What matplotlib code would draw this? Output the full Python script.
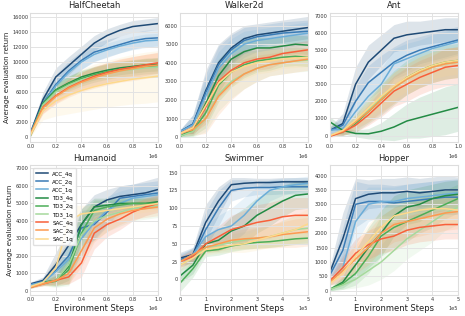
import matplotlib
matplotlib.use("Agg")
import matplotlib.pyplot as plt
import numpy as np

series = ["ACC_4q", "ACC_2q", "ACC_1q", "TD3_4q", "TD3_2q", "TD3_1q", "SAC_4q", "SAC_2q", "SAC_1q"]
colors = ["#1f4a75", "#3a7bb5", "#6badd8", "#238b45", "#4cae57", "#a6d99c", "#f8603a", "#fd9a50", "#fdd98c"]

steps_1m = [0, 1e5, 2e5, 3e5, 4e5, 5e5, 6e5, 7e5, 8e5, 9e5, 1e6]
steps_500k = [0, 0.5e5, 1e5, 1.5e5, 2e5, 2.5e5, 3e5, 3.5e5, 4e5, 4.5e5, 5e5]

halfcheetah_mean = [
    [500, 5000, 8000, 9500, 11000, 12500, 13500, 14200, 14700, 14900, 15100],
    [400, 4500, 7000, 8800, 10200, 11300, 11800, 12300, 12800, 13100, 13200],
    [400, 4400, 6800, 8600, 10000, 11000, 11600, 12100, 12500, 12800, 12900],
    [200, 4500, 6300, 7200, 8000, 8500, 8900, 9200, 9400, 9600, 9700],
    [200, 4400, 6200, 7100, 7800, 8300, 8700, 9000, 9200, 9400, 9500],
    [200, 4300, 6000, 6900, 7600, 8100, 8500, 8800, 9000, 9200, 9300],
    [300, 4000, 5500, 6600, 7400, 8100, 8600, 9000, 9300, 9600, 9900],
    [300, 3900, 5400, 6500, 7300, 7900, 8400, 8800, 9100, 9400, 9600],
    [200, 3500, 4800, 5600, 6200, 6700, 7100, 7400, 7700, 7900, 8100],
]
halfcheetah_std = [
    [300, 1000, 1200, 1200, 1100, 1000, 900, 800, 800, 800, 800],
    [300, 1000, 1300, 1300, 1200, 1200, 1200, 1100, 1100, 1100, 1100],
    [300, 900, 1100, 1100, 1000, 1000, 900, 900, 900, 900, 900],
    [200, 700, 800, 900, 900, 900, 900, 900, 900, 900, 900],
    [200, 700, 900, 1000, 1000, 1000, 1000, 1000, 1000, 1000, 1000],
    [200, 800, 1000, 1100, 1100, 1200, 1200, 1200, 1200, 1200, 1200],
    [200, 800, 1000, 1100, 1200, 1300, 1300, 1400, 1400, 1400, 1400],
    [200, 800, 1000, 1200, 1300, 1400, 1500, 1500, 1600, 1600, 1600],
    [200, 1200, 2000, 2500, 2800, 3000, 3100, 3200, 3300, 3400, 3400],
]

walker_mean = [
    [300, 700, 2500, 4000, 4800, 5300, 5500, 5600, 5700, 5800, 5900],
    [300, 700, 2400, 3900, 4700, 5200, 5400, 5500, 5600, 5650, 5700],
    [300, 650, 2200, 3700, 4500, 5000, 5200, 5300, 5400, 5500, 5600],
    [50, 400, 1800, 3300, 4200, 4600, 4800, 4800, 4900, 5000, 4950],
    [50, 350, 1300, 2800, 3500, 3900, 4100, 4200, 4300, 4350, 4300],
    [50, 300, 1000, 2300, 3000, 3400, 3700, 3900, 4000, 4100, 4150],
    [200, 500, 1600, 3000, 3600, 4000, 4200, 4300, 4500, 4600, 4700],
    [200, 400, 1000, 2200, 2900, 3400, 3700, 3900, 4000, 4100, 4200],
    [200, 500, 1700, 2900, 3500, 3800, 4000, 4100, 4200, 4250, 4300],
]
walker_std = [
    [100, 500, 1100, 1000, 800, 700, 600, 600, 600, 600, 600],
    [100, 500, 1000, 1000, 800, 700, 600, 600, 600, 600, 600],
    [100, 400, 900, 900, 800, 700, 600, 600, 600, 600, 600],
    [50, 300, 900, 900, 700, 600, 600, 500, 500, 500, 500],
    [50, 300, 800, 900, 800, 700, 600, 600, 500, 500, 500],
    [50, 300, 700, 900, 900, 800, 700, 600, 600, 600, 600],
    [100, 300, 900, 900, 800, 700, 600, 600, 500, 500, 500],
    [100, 300, 800, 1000, 900, 800, 700, 600, 600, 600, 600],
    [100, 300, 900, 900, 800, 700, 600, 600, 500, 500, 500],
]

ant_mean = [
    [300, 700, 3000, 4300, 5000, 5700, 5900, 6000, 6100, 6200, 6200],
    [300, 600, 2000, 3100, 3700, 4300, 4700, 5000, 5200, 5400, 5600],
    [300, 400, 1400, 2300, 3000, 4200, 4500, 4800, 5100, 5300, 5500],
    [800, 300, 120, 100, 250, 500, 850, 1050, 1250, 1450, 1650],
    [0, 200, 700, 1400, 2100, 2800, 3400, 3800, 4100, 4300, 4400],
    [0, 200, 800, 1500, 2200, 2800, 3300, 3700, 4000, 4200, 4300],
    [-50, 200, 600, 1200, 1900, 2600, 3000, 3400, 3700, 4000, 4100],
    [0, 250, 800, 1400, 2100, 2800, 3300, 3700, 4000, 4200, 4300],
    [0, 300, 900, 1600, 2300, 2900, 3400, 3800, 4100, 4300, 4400],
]
ant_std = [
    [200, 600, 1000, 1000, 900, 800, 800, 700, 700, 700, 700],
    [200, 500, 900, 1000, 1000, 900, 900, 800, 800, 800, 800],
    [200, 400, 800, 900, 900, 900, 900, 800, 800, 800, 800],
    [300, 200, 200, 300, 500, 800, 1000, 1200, 1300, 1400, 1400],
    [50, 200, 500, 700, 900, 1000, 1000, 1000, 1000, 1000, 1000],
    [50, 200, 500, 700, 800, 900, 900, 900, 900, 900, 900],
    [50, 200, 400, 600, 800, 900, 1000, 1000, 1000, 1100, 1100],
    [50, 200, 400, 600, 800, 900, 900, 900, 900, 900, 900],
    [50, 200, 400, 600, 700, 800, 800, 800, 800, 800, 800],
]

humanoid_mean = [
    [400, 600, 1500, 2600, 3800, 4800, 5200, 5400, 5500, 5600, 5800],
    [350, 550, 1200, 2000, 3600, 3800, 4500, 5300, 5400, 5500, 5600],
    [350, 500, 1100, 1800, 3000, 3900, 4600, 5000, 5300, 5400, 5500],
    [200, 500, 600, 1400, 3800, 4800, 4900, 5000, 5000, 5000, 5100],
    [200, 450, 550, 1200, 3300, 4600, 4800, 4900, 5000, 5000, 5000],
    [200, 450, 600, 1500, 3200, 4000, 4300, 4500, 4700, 4800, 4900],
    [200, 400, 600, 800, 1600, 3300, 3800, 4100, 4500, 4800, 5000],
    [200, 400, 600, 1000, 2300, 3600, 4100, 4400, 4600, 4700, 4800],
    [250, 500, 1300, 4000, 4400, 4500, 4600, 4700, 4800, 4900, 5000],
]
humanoid_std = [
    [100, 200, 700, 900, 900, 700, 600, 600, 600, 700, 700],
    [100, 200, 600, 900, 1000, 900, 800, 700, 700, 700, 700],
    [100, 200, 500, 800, 1000, 900, 800, 700, 600, 600, 600],
    [50, 100, 300, 800, 900, 500, 400, 300, 300, 300, 300],
    [50, 100, 300, 800, 1000, 600, 400, 300, 300, 300, 300],
    [50, 150, 400, 1200, 1300, 1100, 900, 800, 700, 700, 700],
    [50, 100, 200, 400, 800, 900, 700, 600, 500, 500, 500],
    [50, 100, 300, 600, 900, 800, 700, 600, 500, 500, 500],
    [50, 200, 600, 900, 500, 400, 400, 400, 400, 400, 400],
]

swimmer_mean = [
    [30, 35, 80, 110, 133, 135, 136, 136, 137, 137, 137],
    [28, 33, 70, 100, 125, 128, 129, 129, 130, 130, 130],
    [25, 35, 60, 70, 75, 90, 110, 125, 130, 133, 135],
    [5, 20, 50, 55, 68, 75, 90, 100, 110, 118, 120],
    [-5, 15, 40, 42, 47, 50, 52, 53, 55, 57, 58],
    [20, 30, 45, 48, 52, 55, 58, 60, 65, 70, 72],
    [25, 32, 50, 60, 70, 75, 80, 83, 88, 90, 90],
    [25, 35, 45, 50, 55, 57, 58, 60, 63, 65, 67],
    [20, 30, 42, 45, 48, 50, 55, 60, 65, 70, 78],
]
swimmer_std = [
    [8, 10, 25, 20, 10, 8, 6, 6, 6, 6, 6],
    [8, 10, 25, 25, 15, 12, 10, 10, 10, 10, 10],
    [8, 10, 15, 20, 25, 25, 20, 15, 12, 10, 10],
    [10, 12, 10, 15, 20, 25, 25, 25, 22, 20, 20],
    [12, 12, 8, 8, 8, 8, 8, 8, 8, 8, 8],
    [8, 8, 8, 10, 12, 12, 14, 15, 18, 20, 20],
    [8, 8, 10, 15, 20, 22, 25, 25, 25, 25, 25],
    [8, 8, 8, 10, 12, 14, 15, 16, 18, 20, 20],
    [8, 8, 8, 8, 10, 12, 14, 15, 18, 20, 22],
]

hopper_mean = [
    [650, 1800, 3200, 3350, 3400, 3400, 3450, 3400, 3450, 3500, 3500],
    [550, 1400, 3000, 3100, 3100, 3050, 3100, 3150, 3200, 3250, 3250],
    [300, 800, 2400, 3000, 3100, 3100, 3200, 3250, 3300, 3350, 3400],
    [50, 300, 900, 1500, 2000, 2600, 2900, 3000, 3200, 3300, 3350],
    [50, 250, 600, 1200, 1900, 2200, 2400, 2600, 2800, 3000, 3200],
    [50, 200, 400, 700, 1000, 1400, 1800, 2100, 2400, 2700, 2900],
    [350, 800, 1300, 1600, 1800, 1900, 2100, 2200, 2250, 2300, 2300],
    [300, 700, 1100, 1500, 2000, 2300, 2400, 2500, 2600, 2700, 2750],
    [250, 600, 1200, 1700, 2200, 2600, 2700, 2800, 2850, 2850, 2800],
]
hopper_std = [
    [200, 900, 700, 500, 500, 500, 500, 500, 500, 500, 450],
    [200, 800, 800, 600, 600, 600, 600, 600, 600, 600, 600],
    [100, 500, 800, 600, 500, 500, 500, 500, 500, 500, 500],
    [50, 200, 500, 700, 800, 700, 600, 600, 500, 500, 500],
    [50, 200, 400, 600, 700, 700, 700, 600, 600, 500, 500],
    [50, 150, 300, 500, 600, 700, 700, 700, 700, 600, 600],
    [150, 400, 500, 500, 500, 500, 500, 500, 500, 500, 500],
    [100, 400, 500, 600, 600, 600, 600, 600, 600, 600, 600],
    [100, 400, 500, 600, 600, 500, 500, 500, 500, 500, 500],
]

envs = [
    ("HalfCheetah", steps_1m, halfcheetah_mean, halfcheetah_std, (-700, 16550), [0, 2000, 4000, 6000, 8000, 10000, 12000, 14000, 16000]),
    ("Walker2d", steps_1m, walker_mean, walker_std, (-280, 6700), [0, 1000, 2000, 3000, 4000, 5000, 6000]),
    ("Ant", steps_1m, ant_mean, ant_std, (-400, 7200), [0, 1000, 2000, 3000, 4000, 5000, 6000, 7000]),
    ("Humanoid", steps_1m, humanoid_mean, humanoid_std, (-240, 7170), [0, 1000, 2000, 3000, 4000, 5000, 6000, 7000]),
    ("Swimmer", steps_500k, swimmer_mean, swimmer_std, (-22, 160), [0, 25, 50, 75, 100, 125, 150]),
    ("Hopper", steps_500k, hopper_mean, hopper_std, (-150, 4350), [0, 500, 1000, 1500, 2000, 2500, 3000, 3500, 4000]),
]

fig, axes = plt.subplots(2, 3, figsize=(4.65, 3.16), dpi=100)
plt.subplots_adjust(left=0.065, right=0.985, top=0.96, bottom=0.066, wspace=0.17, hspace=0.178)

for ax, (name, x, means, stds, ylim, yticks) in zip(axes.flat, envs):
    x = np.array(x)
    for lab, c, m, s in zip(series, colors, means, stds):
        m = np.array(m, dtype=float)
        s = np.array(s, dtype=float)
        ax.fill_between(x, m - s, m + s, color=c, alpha=0.15, linewidth=0)
        ax.plot(x, m, color=c, linewidth=1.1, label=lab)
    ax.set_title(name, fontsize=6, pad=3, color="#222222")
    ax.set_xlim(x[0], x[-1])
    ax.set_ylim(*ylim)
    ax.set_yticks(yticks)
    ax.ticklabel_format(axis="x", style="sci", scilimits=(0, 0))
    ax.xaxis.get_offset_text().set_fontsize(3.6)
    ax.tick_params(labelsize=3.6, length=0, pad=1.5, colors="#333333")
    ax.grid(True, color="#e3e3e3", linewidth=0.7)
    for sp in ax.spines.values():
        sp.set_color("#dddddd")
        sp.set_linewidth(0.8)

for ax in axes[:, 0]:
    ax.set_ylabel("Average evaluation return", fontsize=5, labelpad=1.5, color="#222222")
for ax in axes[1, :]:
    ax.set_xlabel("Environment Steps", fontsize=6, labelpad=1, color="#222222")

axes[1, 0].legend(loc="upper left", fontsize=4, handlelength=2.2, labelspacing=0.45,
                  borderpad=0.5, framealpha=0.9, edgecolor="#dddddd")

plt.savefig("out.png", dpi=100)
